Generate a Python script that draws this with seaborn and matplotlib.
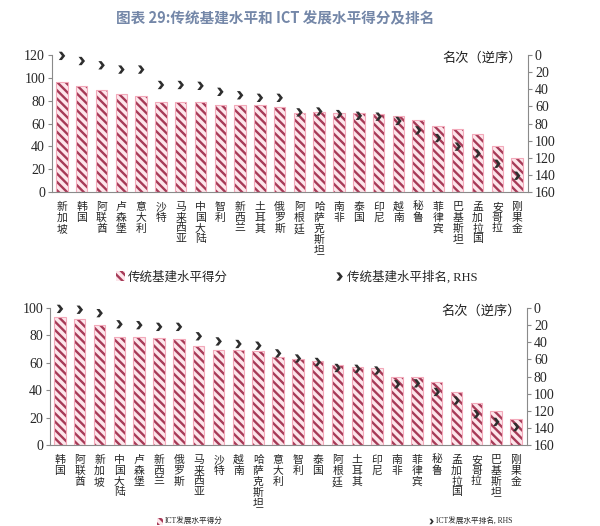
import numpy as np
import matplotlib
matplotlib.use("Agg")
import matplotlib.pyplot as plt
from matplotlib.path import Path
from matplotlib.patches import Patch, Rectangle
from matplotlib.lines import Line2D
import seaborn as sns

# ---------------- data ----------------
cats_top = ["新加坡", "韩国", "阿联酋", "卢森堡", "意大利", "沙特", "马来西亚", "中国大陆",
            "智利", "新西兰", "土耳其", "俄罗斯", "阿根廷", "哈萨克斯坦", "南非", "泰国",
            "印尼", "越南", "秘鲁", "菲律宾", "巴基斯坦", "孟加拉国", "安哥拉", "刚果金"]
score_top = [96, 92.5, 89, 86, 84.5, 78.5, 78.5, 78.5, 76.5, 76, 76, 74.5,
             69, 70, 69.5, 69.5, 68.5, 66.5, 63, 58, 55.5, 51, 40.5, 29.5]
rank_top = [1, 7, 12, 17, 17, 35, 35, 36, 43, 47, 50, 50,
            67, 66, 69, 71, 72, 77, 88, 97, 107, 115, 127, 141]

cats_bot = ["韩国", "阿联酋", "新加坡", "中国大陆", "卢森堡", "新西兰", "俄罗斯", "马来西亚",
            "沙特", "越南", "哈萨克斯坦", "意大利", "智利", "泰国", "阿根廷", "土耳其",
            "印尼", "南非", "菲律宾", "秘鲁", "孟加拉国", "安哥拉", "巴基斯坦", "刚果金"]
score_bot = [93.5, 92, 87.5, 79, 78.5, 78, 77.5, 72, 69.5, 69, 68.5, 64.5,
             62.5, 61, 58.5, 57, 56, 49.5, 49.5, 46, 39, 30.5, 25, 19]
rank_bot = [1, 2, 6, 19, 20, 22, 22, 33, 39, 42, 44, 53,
            59, 63, 70, 71, 73, 89, 88, 98, 108, 124, 133, 139]

title = "图表 29:传统基建水平和 ICT 发展水平得分及排名"
legend_top = ["传统基建水平得分", "传统基建水平排名, RHS"]
legend_bot = ["ICT发展水平得分", "ICT发展水平排名, RHS"]
rank_label = "名次（逆序）"

# ---------------- style ----------------
sns.set_style("white")
plt.rcParams["font.family"] = ["Liberation Serif", "Noto Sans CJK SC", "DejaVu Sans"]
plt.rcParams["hatch.linewidth"] = 1.7
plt.rcParams["axes.unicode_minus"] = False

HATCH_C = "#a63a57"
FACE_C = "#fde6eb"
EDGE_C = "#f3a9ba"
MARK_C = "#2e2e2e"
SPINE_C = "#8a8a8a"
W, H = 600, 526

chev = Path([(-0.75, 1.0), (0.0, 1.0), (0.8, 0.0), (0.0, -1.0), (-0.75, -1.0), (0.0, 0.0), (-0.75, 1.0)],
            [Path.MOVETO, Path.LINETO, Path.LINETO, Path.LINETO, Path.LINETO, Path.LINETO, Path.CLOSEPOLY])

fig = plt.figure(figsize=(6.0, 5.26), dpi=100)


def panel(rect, cats, scores, ranks, ymax):
    ax = fig.add_axes(rect)
    sns.barplot(x=cats, y=scores, ax=ax, color=FACE_C, width=0.58,
                edgecolor=HATCH_C, linewidth=0, hatch="\\\\\\\\", saturation=1)
    for p in list(ax.patches):
        p.set_facecolor(FACE_C)
        p.set_hatch("\\\\\\\\")
        ax.add_patch(Rectangle(p.get_xy(), p.get_width(), p.get_height(),
                               fill=False, edgecolor=EDGE_C, linewidth=0.8, zorder=3))
    n = len(cats)
    ax.set_xlim(-0.5, n - 0.45)
    ax.set_ylim(0, ymax)
    ax.set_yticks(np.arange(0, ymax + 1, 20))
    ax.set_xticks(range(n))
    ax.set_xticklabels(["\n".join(c) for c in cats], fontsize=7.8, linespacing=1.1,
                       family=["Noto Sans CJK SC"], va="top")
    ax.set_xticks(np.arange(-0.5, n, 1.0), minor=True)
    ax.tick_params(axis="x", which="major", length=0, pad=7)
    ax.tick_params(axis="x", which="minor", length=3, color=SPINE_C, width=0.8, direction="out")
    ax.tick_params(axis="y", length=3, color=SPINE_C, width=0.8, labelsize=10, pad=2, direction="out", left=True)
    for s in ["top", "right"]:
        ax.spines[s].set_visible(False)
    for s in ["left", "bottom"]:
        ax.spines[s].set_color(SPINE_C)
        ax.spines[s].set_linewidth(0.8)
    ax.set_xlabel("")
    ax.set_ylabel("")

    ax2 = ax.twinx()
    sns.scatterplot(x=np.arange(n), y=ranks, ax=ax2, marker=chev, s=36,
                    color=MARK_C, edgecolor="none", linewidth=0, zorder=5, clip_on=False)
    ax2.set_ylim(160, 0)
    ax2.set_yticks(np.arange(0, 161, 20))
    ax2.tick_params(axis="y", length=3, color=SPINE_C, width=0.8, labelsize=10, pad=2, direction="out", right=True)
    for s in ["top", "left", "bottom"]:
        ax2.spines[s].set_visible(False)
    ax2.spines["right"].set_color(SPINE_C)
    ax2.spines["right"].set_linewidth(0.8)
    ax2.set_ylabel("")
    ax.text(0.988, 0.975, rank_label, transform=ax.transAxes, ha="right", va="center",
            fontsize=9.5, family=["Noto Sans CJK SC"], color="#222222")
    return ax, ax2


ax_top, ax_top2 = panel([0.0867, 0.635, 0.7933, 0.2604], cats_top, score_top, rank_top, 120)
ax_bot, ax_bot2 = panel([0.0833, 0.154, 0.7950, 0.2604], cats_bot, score_bot, rank_bot, 100)

fig.text(0.458, 1 - 18 / H, title, ha="center", va="center", fontsize=10.5,
         fontweight="bold", color="#7487a8", family=["Noto Sans CJK SC"])


def legend_entry(handle, label, xc, yc, size):
    leg = fig.legend([handle], [label], loc="center", bbox_to_anchor=(xc / W, 1 - yc / H),
                     frameon=False, prop={"family": ["Liberation Serif", "Noto Sans CJK SC"], "size": size},
                     handlelength=0.7, handleheight=0.9, handletextpad=0.3,
                     borderpad=0, borderaxespad=0)
    return leg


def bar_handle():
    return Patch(facecolor=FACE_C, edgecolor=HATCH_C, hatch="\\\\\\\\", linewidth=0)


def mark_handle(ms):
    return Line2D([], [], marker=chev, color=MARK_C, linestyle="none", markersize=ms, markeredgewidth=0)


legend_entry(bar_handle(), legend_top[0], 172, 277, 9)
legend_entry(mark_handle(6), legend_top[1], 406, 277, 9)
legend_entry(bar_handle(), legend_bot[0], 190, 522, 5.5)
legend_entry(mark_handle(4), legend_bot[1], 470, 522, 5.5)

fig.savefig("out.png", dpi=100)
